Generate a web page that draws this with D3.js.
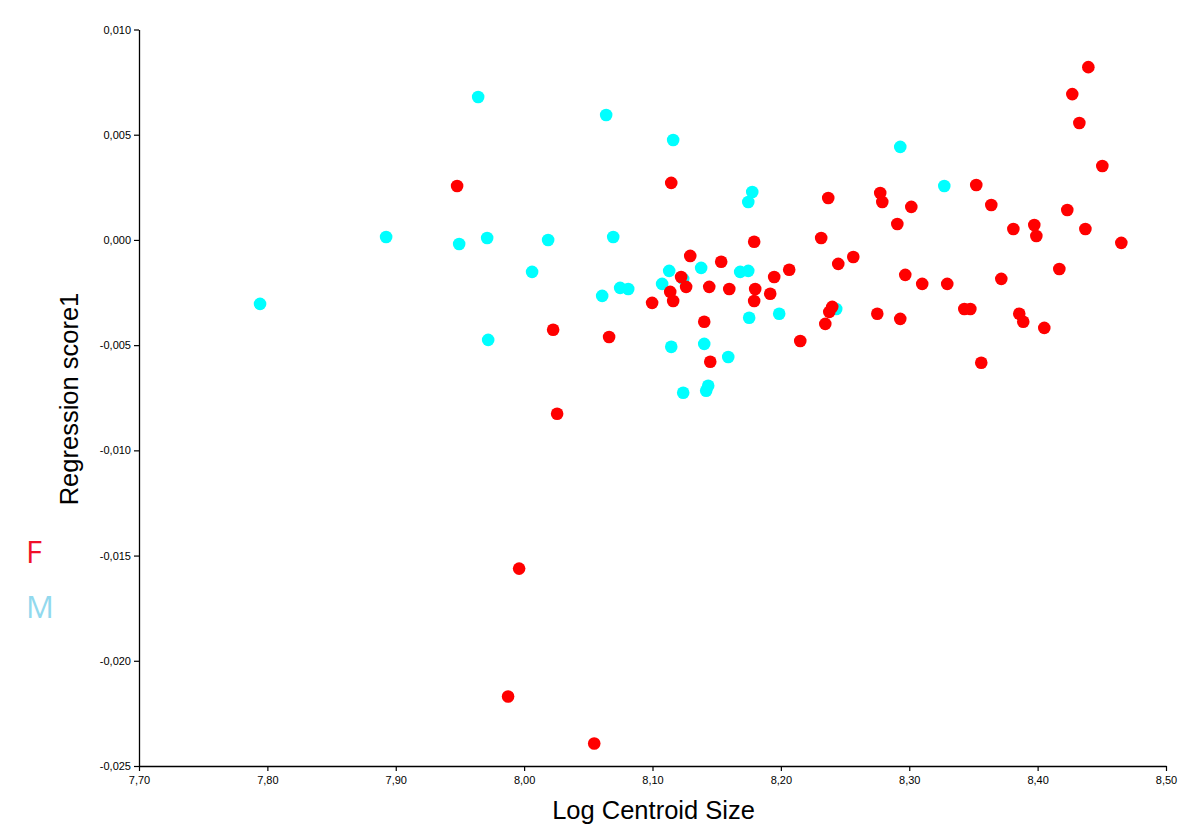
<!DOCTYPE html>
<html>
<head>
<meta charset="utf-8">
<script src="https://cdn.jsdelivr.net/npm/d3@7"></script>
<style>
  html, body { margin: 0; padding: 0; background: #fff; }
  svg { display: block; }
  .tick text { font-family: "Liberation Sans", Arial, sans-serif; font-size: 11px; fill: #000; }
</style>
</head>
<body>
<svg id="chart" width="1200" height="837"></svg>
<script>
// ---- data ----
const xTicks = [7.70, 7.80, 7.90, 8.00, 8.10, 8.20, 8.30, 8.40, 8.50];
const yTicks = [0.010, 0.005, 0.000, -0.005, -0.010, -0.015, -0.020, -0.025];
const groups = ["F", "M"];

const maleX = [7.7943, 7.8925, 7.9494, 7.9642, 7.9712, 7.9720, 8.0062, 8.0187, 8.0639, 8.0694,
  8.0608, 8.0748, 8.0811, 8.1161, 8.1130, 8.1075, 8.1146, 8.1239, 8.1379, 8.1239,
  8.1403, 8.1434, 8.1418, 8.1590, 8.1683, 8.1746, 8.1777, 8.1746, 8.1753, 8.1987,
  8.2930, 8.3273, 8.2431];
const maleY = [-0.00304, 0.00014, -0.00019, 0.00679, 0.00009, -0.00475, -0.00152, 0.00000, 0.00594, 0.00014,
  -0.00266, -0.00228, -0.00233, 0.00475, -0.00147, -0.00209, -0.00508, -0.00726, -0.00133, -0.00185,
  -0.00494, -0.00693, -0.00717, -0.00556, -0.00152, -0.00147, 0.00228, 0.00180, -0.00370, -0.00351,
  0.00442, 0.00256, -0.00328];

const femaleX = [7.9478, 8.1146, 8.1792, 8.1294, 8.1535, 8.1223, 8.2065, 8.1948, 8.1262, 8.1442,
  8.1598, 8.1800, 8.1138, 8.1917, 8.0997, 8.1161, 8.1792, 8.1403, 8.0226, 8.0662,
  8.1450, 8.2151, 8.0257, 8.4395, 8.4270, 8.4325, 8.4504, 8.3522, 8.2369, 8.2774,
  8.2790, 8.3016, 8.3639, 8.4231, 8.2907, 8.2314, 8.3811, 8.3974, 8.3990, 8.4372,
  8.4652, 8.2564, 8.2447, 8.2969, 8.3101, 8.3296, 8.3717, 8.4169, 8.2400, 8.2377,
  8.2346, 8.2751, 8.2930, 8.3429, 8.3476, 8.3857, 8.3888, 8.4052, 8.3561, 7.9961,
  7.9875, 8.0546];
const femaleY = [0.00256, 0.00271, -0.00009, -0.00076, -0.00104, -0.00176, -0.00142, -0.00176, -0.00223, -0.00223,
  -0.00233, -0.00233, -0.00247, -0.00256, -0.00299, -0.00290, -0.00290, -0.00389, -0.00427, -0.00461,
  -0.00579, -0.00480, -0.00826, 0.00821, 0.00693, 0.00556, 0.00351, 0.00261, 0.00199, 0.00223,
  0.00180, 0.00157, 0.00166, 0.00142, 0.00076, 0.00009, 0.00052, 0.00071, 0.00019, 0.00052,
  -0.00014, -0.00081, -0.00114, -0.00166, -0.00209, -0.00209, -0.00185, -0.00138, -0.00318, -0.00342,
  -0.00399, -0.00351, -0.00375, -0.00328, -0.00328, -0.00351, -0.00389, -0.00418, -0.00584, -0.01562,
  -0.02170, -0.02393];

// ---- layout ----
const svg = d3.select("#chart");
const mLeft = 139, mRight = 1166, mTop = 29.5, mBottom = 766;
const fmt = v => d3.format(".3f")(v).replace(".", ",").replace("−", "-");
const fmtX = v => d3.format(".2f")(v).replace(".", ",");

const x = d3.scaleLinear().domain([7.70, 8.50]).range([mLeft, mRight]);
const y = d3.scaleLinear().domain([-0.025, 0.010]).range([mBottom, mTop]);

// axes
const yAxis = svg.append("g")
  .attr("transform", `translate(${mLeft},0)`)
  .call(d3.axisLeft(y).tickValues(yTicks).tickFormat(fmt).tickSize(5).tickSizeOuter(0).tickPadding(3));
const xAxis = svg.append("g")
  .attr("transform", `translate(0,${mBottom})`)
  .call(d3.axisBottom(x).tickValues(xTicks).tickFormat(fmtX).tickSize(5).tickSizeOuter(0).tickPadding(5));
[xAxis, yAxis].forEach(a => {
  a.select(".domain").attr("stroke", "#000").attr("stroke-width", 1.3);
  a.selectAll(".tick line").attr("stroke", "#000").attr("stroke-width", 1.2);
});

// points
const male = maleX.map((v, i) => ({ x: v, y: maleY[i] }));
const female = femaleX.map((v, i) => ({ x: v, y: femaleY[i] }));
const r = 6.3;
svg.append("g").selectAll("circle").data(male).join("circle")
  .attr("cx", d => x(d.x)).attr("cy", d => y(d.y)).attr("r", r).attr("fill", "#00ffff");
svg.append("g").selectAll("circle").data(female).join("circle")
  .attr("cx", d => x(d.x)).attr("cy", d => y(d.y)).attr("r", r).attr("fill", "#ff0000");

// axis titles
svg.append("text")
  .attr("x", (mLeft + mRight) / 2 + 1).attr("y", 819)
  .attr("text-anchor", "middle")
  .style("font-family", "'Liberation Sans', Arial, sans-serif").style("font-size", "25.5px")
  .text("Log Centroid Size");
svg.append("text")
  .attr("transform", `translate(78,399) rotate(-90)`)
  .attr("text-anchor", "middle")
  .style("font-family", "'Liberation Sans', Arial, sans-serif").style("font-size", "25.5px")
  .text("Regression score1");

// legend labels
const legendColors = ["#f0102a", "#92d9ee"];
svg.append("g").selectAll("text").data(groups).join("text")
  .attr("x", 26).attr("y", (d, i) => 563 + i * 55)
  .style("font-family", "'Open Sans', 'Liberation Sans', sans-serif").style("font-size", "31px")
  .attr("fill", (d, i) => legendColors[i])
  .text(d => d);
</script>
</body>
</html>
